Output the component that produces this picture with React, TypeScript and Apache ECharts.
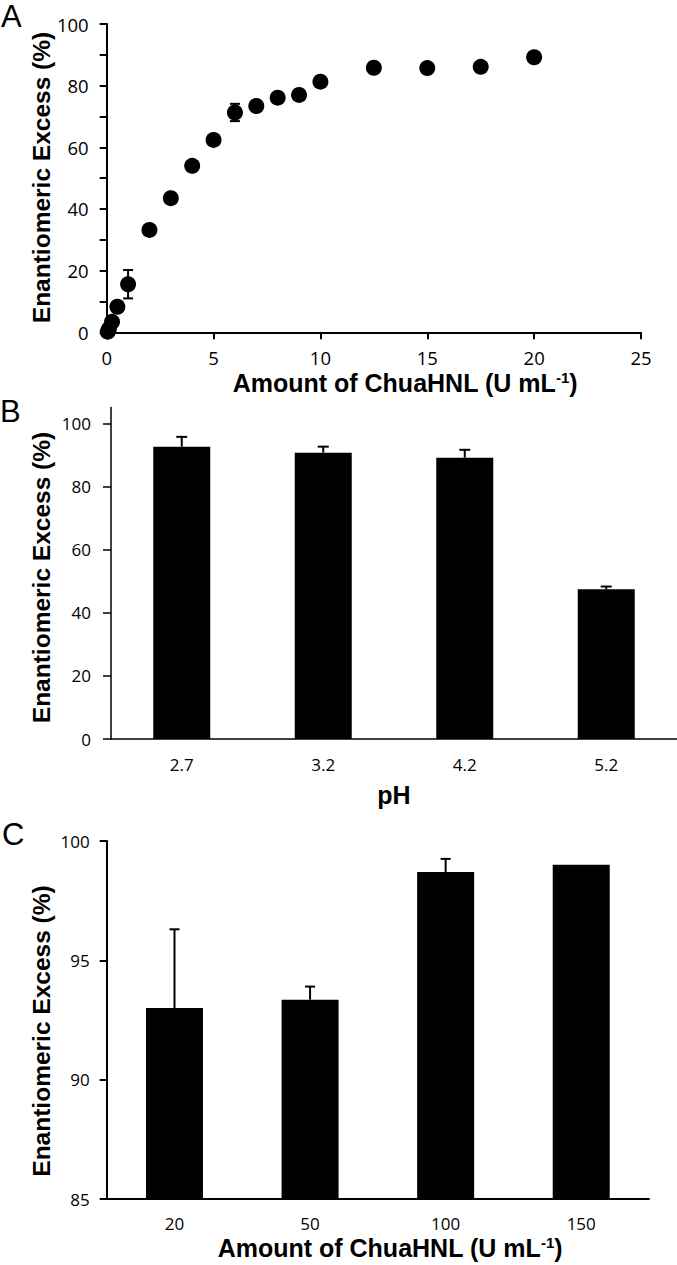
import React, { useEffect, useRef } from "react";
import * as echarts from "echarts";

// Panel A: enzyme amount vs enantiomeric excess
const aDose = [0.05, 0.1, 0.25, 0.5, 1, 2, 3, 4, 5, 6, 7, 8, 9, 10, 12.5, 15, 17.5, 20];
const aEE = [0.2, 1.0, 3.4, 8.3, 15.6, 33.2, 43.5, 54.0, 62.4, 71.3, 73.4, 76.1, 77.0, 81.3, 85.8, 85.7, 86.1, 89.2];
const aErr = [0.3, 0.5, 0.8, 1.0, 4.6, 1.0, 1.2, 1.3, 1.5, 2.8, 1.2, 1.0, 1.4, 1.2, 1.0, 0.8, 1.0, 1.0];
const aXTicks = [0, 5, 10, 15, 20, 25];

// Panel B: pH
const bPH = ["2.7", "3.2", "4.2", "5.2"];
const bEE = [92.6, 90.7, 89.1, 47.4];
const bErr = [3.1, 1.9, 2.5, 0.9];
const bYTicks = [0, 20, 40, 60, 80, 100];

// Panel C: enzyme amount (bars)
const cAmount = ["20", "50", "100", "150"];
const cEE = [93.0, 93.35, 98.7, 99.0];
const cErr = [3.3, 0.55, 0.55, 0];

const TICK_FONT = "'Open Sans', 'Liberation Sans', sans-serif";
const TITLE_FONT = "'Liberation Sans', Arial, sans-serif";

function errRender(both: boolean, cap: number) {
  return (params: any, api: any) => {
    const x = api.value(0);
    const y = api.value(1);
    const e = api.value(2);
    if (!e) return { type: "group", children: [] };
    const top = api.coord([x, y + e]);
    const bot = both ? api.coord([x, y - e]) : api.coord([x, y]);
    const style = { stroke: "#000", lineWidth: 2 };
    const children: any[] = [
      { type: "line", shape: { x1: top[0], y1: top[1], x2: bot[0], y2: bot[1] }, style },
      { type: "line", shape: { x1: top[0] - cap, y1: top[1], x2: top[0] + cap, y2: top[1] }, style },
    ];
    if (both) {
      children.push({ type: "line", shape: { x1: bot[0] - cap, y1: bot[1], x2: bot[0] + cap, y2: bot[1] }, style });
    }
    return { type: "group", children };
  };
}

function xTitle(x: number, y: number, withUnit: boolean) {
  const rich = {
    m: { fontSize: 25, fontWeight: "bold", fontFamily: TITLE_FONT, fill: "#000", lineHeight: 27 },
    s: { fontSize: 15, fontWeight: "bold", fontFamily: TITLE_FONT, fill: "#000", verticalAlign: "top", lineHeight: 15 },
  };
  return {
    type: "text",
    x,
    y,
    style: {
      text: withUnit ? "{m|Amount of ChuaHNL (U mL}{s|-1}{m|)}" : "{m|pH}",
      rich,
      align: "center",
      verticalAlign: "middle",
    },
  };
}

function yTitle(x: number, y: number) {
  return {
    type: "text",
    x,
    y,
    rotation: Math.PI / 2,
    style: {
      text: "Enantiomeric Excess (%)",
      fontSize: 24.5,
      fontWeight: "bold",
      fontFamily: TITLE_FONT,
      fill: "#000",
      align: "center",
      verticalAlign: "middle",
    },
  };
}

function letter(t: string, x: number, y: number) {
  return {
    type: "text",
    x,
    y,
    style: {
      text: t,
      fontSize: 31,
      fontFamily: TITLE_FONT,
      fill: "#000",
      align: "left",
      verticalAlign: "middle",
    },
  };
}

export default function App() {
  const ref = useRef<HTMLDivElement>(null);

  useEffect(() => {
    if (!ref.current) return;
    const chart = echarts.init(ref.current, undefined, { renderer: "svg" });

    const axisLine = (w: number) => ({ show: true, onZero: false, lineStyle: { color: "#000", width: w } });
    const tick = (len: number, w: number) => ({ show: true, length: len, inside: false, lineStyle: { color: "#000", width: w } });
    const label = (size: number, margin: number) => ({ fontSize: size, fontFamily: TICK_FONT, color: "#000", margin });

    const option: any = {
      animation: false,
      backgroundColor: "#fff",
      grid: [
        { left: 106.7, top: 24, width: 534.3, height: 308.3, outerBoundsMode: "none", containLabel: false },
        { left: 111, top: 407.5, width: 566, height: 331.5, outerBoundsMode: "none", containLabel: false },
        { left: 106.7, top: 841, width: 542.3, height: 358, outerBoundsMode: "none", containLabel: false },
      ],
      xAxis: [
        {
          gridIndex: 0,
          type: "value",
          min: aXTicks[0],
          max: aXTicks[aXTicks.length - 1],
          interval: 5,
          axisLine: axisLine(2),
          axisTick: tick(7, 2),
          splitLine: { show: false },
          axisLabel: label(18.5, 16),
        },
        {
          gridIndex: 1,
          type: "category",
          data: bPH,
          axisLine: axisLine(1.5),
          axisTick: { show: false },
          splitLine: { show: false },
          axisLabel: label(17, 17),
        },
        {
          gridIndex: 2,
          type: "category",
          data: cAmount,
          axisLine: axisLine(2),
          axisTick: { show: false },
          splitLine: { show: false },
          axisLabel: label(17, 16),
        },
      ],
      yAxis: [
        {
          gridIndex: 0,
          type: "value",
          min: 0,
          max: 100,
          interval: 10,
          axisLine: axisLine(2),
          axisTick: tick(7, 2),
          splitLine: { show: false },
          axisLabel: { ...label(18.5, 18), formatter: (v: number) => (v % 20 === 0 ? String(v) : "") },
        },
        {
          gridIndex: 1,
          type: "value",
          min: 0,
          max: 105,
          interval: 20,
          axisLine: axisLine(1.5),
          axisTick: { ...tick(8, 1.5), customValues: bYTicks },
          splitLine: { show: false },
          axisLabel: { ...label(17, 20), customValues: bYTicks },
        },
        {
          gridIndex: 2,
          type: "value",
          min: 85,
          max: 100,
          interval: 5,
          axisLine: axisLine(2),
          axisTick: tick(7, 2),
          splitLine: { show: false },
          axisLabel: label(17, 17),
        },
      ],
      series: [
        {
          type: "custom",
          xAxisIndex: 0,
          yAxisIndex: 0,
          z: 2,
          renderItem: errRender(true, 5),
          encode: { x: 0, y: 1 },
          data: aDose.map((d, i) => [d, aEE[i], aErr[i]]),
        },
        {
          type: "scatter",
          xAxisIndex: 0,
          yAxisIndex: 0,
          z: 3,
          symbol: "circle",
          symbolSize: 16,
          clip: false,
          itemStyle: { color: "#000", opacity: 1 },
          data: aDose.map((d, i) => [d, aEE[i]]),
        },
        {
          type: "bar",
          xAxisIndex: 1,
          yAxisIndex: 1,
          barWidth: 57,
          itemStyle: { color: "#000" },
          data: bEE,
        },
        {
          type: "custom",
          xAxisIndex: 1,
          yAxisIndex: 1,
          z: 4,
          renderItem: errRender(false, 5.5),
          encode: { x: 0, y: 1 },
          data: bPH.map((_, i) => [i, bEE[i], bErr[i]]),
        },
        {
          type: "bar",
          xAxisIndex: 2,
          yAxisIndex: 2,
          barWidth: 57,
          itemStyle: { color: "#000" },
          data: cEE,
        },
        {
          type: "custom",
          xAxisIndex: 2,
          yAxisIndex: 2,
          z: 4,
          renderItem: errRender(false, 5),
          encode: { x: 0, y: 1 },
          data: cAmount.map((_, i) => [i, cEE[i], cErr[i]]),
        },
      ],
      graphic: [
        letter("A", 1, 16),
        letter("B", 0, 411),
        letter("C", 2, 834),
        yTitle(41, 177.5),
        yTitle(41, 577.5),
        yTitle(41, 1031),
        xTitle(405, 383, true),
        xTitle(394, 795, false),
        xTitle(390, 1248, true),
      ],
    };

    chart.setOption(option);
    return () => chart.dispose();
  }, []);

  return (
    <div
      ref={ref}
      style={{ position: "absolute", left: 0, top: 0, width: 677, height: 1265, background: "#fff" }}
    />
  );
}
